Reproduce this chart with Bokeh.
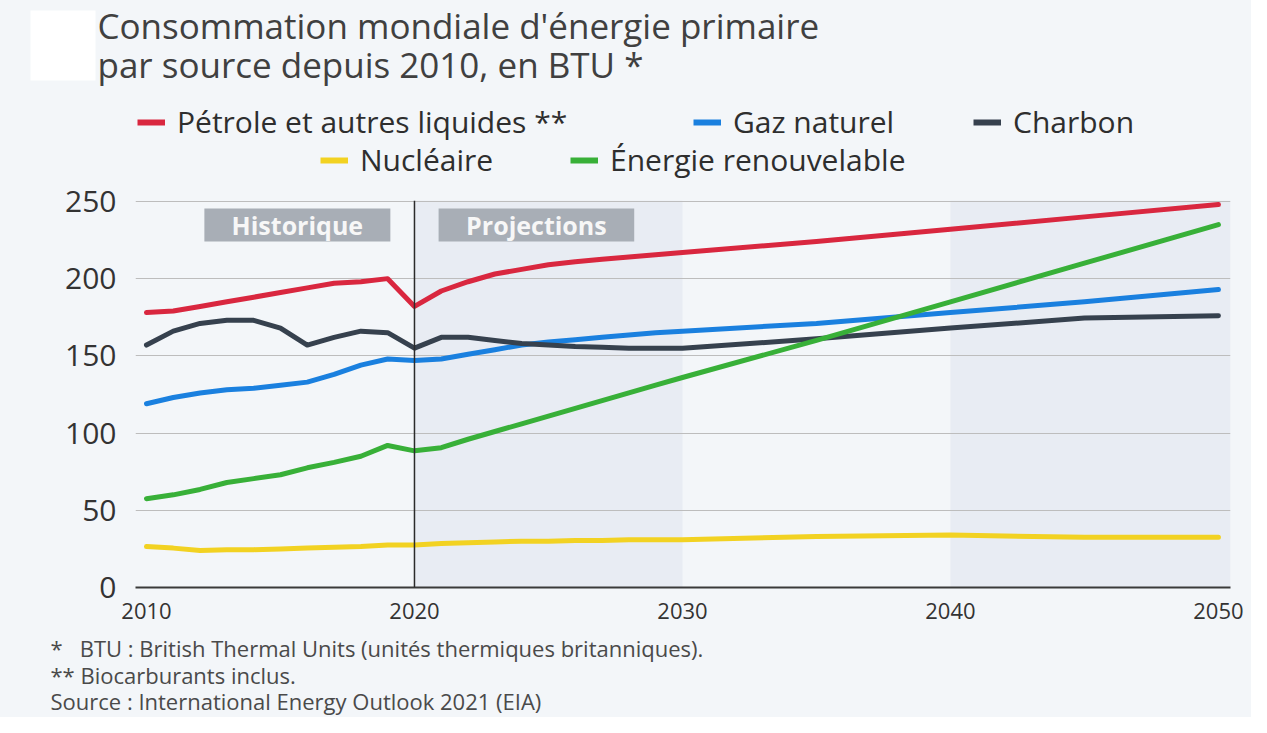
from bokeh.plotting import figure
from bokeh.layouts import column
from bokeh.models import (Range1d, FixedTicker, Label, Legend, LegendItem,
                          BoxAnnotation, Span)
from bokeh.embed import file_html
from bokeh.resources import INLINE

# ---------------- data ----------------
years = [2010, 2011, 2012, 2013, 2014, 2015, 2016, 2017, 2018, 2019, 2020,
         2021, 2022, 2023, 2024, 2025, 2026, 2027, 2028, 2029, 2030,
         2035, 2040, 2045, 2050]
petrole = [178, 179, 182, 185, 188, 191, 194, 197, 198, 200, 182,
           192, 198, 203, 206, 209, 211, 212.5, 214, 215.5, 217,
           224, 232, 240, 248]
gaz = [119, 123, 126, 128, 129, 131, 133, 138, 144, 148, 147,
       148, 151, 154, 157, 159, 160.5, 162, 163.5, 165, 166,
       171, 178, 185, 193]
charbon = [157, 166, 171, 173, 173, 168, 157, 162, 166, 165, 155,
           162, 162, 160, 158, 157, 156, 155.5, 155, 155, 155,
           161, 168, 174.5, 176]
nucleaire = [26.5, 25.5, 24, 24.5, 24.5, 25, 25.5, 26, 26.5, 27.5, 27.5,
             28.5, 29, 29.5, 30, 30, 30.5, 30.5, 31, 31, 31,
             33, 34, 32.5, 32.5]
renouvelable = [57.5, 60, 63.5, 68, 70.5, 73, 77.5, 81, 85, 92, 88.5,
                90.5, 96, 101, 106, 111, 116, 121, 126, 131, 136,
                160, 185, 210, 235]

series_names = ["Pétrole et autres liquides **", "Gaz naturel", "Charbon",
                "Nucléaire", "Énergie renouvelable"]
x_ticks = [2010, 2020, 2030, 2040, 2050]
y_ticks = [0, 50, 100, 150, 200, 250]
period_labels = ["Historique", "Projections"]
title_lines = ["Consommation mondiale d'énergie primaire",
               "par source depuis 2010, en BTU *"]
notes = ["*\u00a0\u00a0 BTU : British Thermal Units (unités thermiques britanniques).",
         "** Biocarburants inclus.",
         "Source : International Energy Outlook 2021 (EIA)"]

# ---------------- style ----------------
FONT = "Open Sans"
BG = "#f3f6f9"
BAND = "#e8ecf3"
COLORS = ["#d9273f", "#1a80df", "#36414e", "#f2d222", "#38b038"]
W = 1251
HEAD_H, FOOT_H = 181, 87
MAIN_TOP, FRAME_H, MAIN_BOTTOM = 19, 387, 43
MAIN_H = MAIN_TOP + FRAME_H + MAIN_BOTTOM
FOOT_Y0 = HEAD_H + MAIN_H   # page y where footer starts


def no_align(f):
    if "frame_align" in f.properties():
        f.frame_align = False


def blank_fig(h):
    f = figure(width=W, height=h, output_backend="svg", toolbar_location=None,
               title=None, x_range=Range1d(0, W), y_range=Range1d(0, h),
               min_border=0, x_axis_type=None, y_axis_type=None)
    f.background_fill_color = BG
    f.border_fill_color = BG
    f.outline_line_color = None
    f.xgrid.visible = False
    f.ygrid.visible = False
    no_align(f)
    return f


def add_text(f, txt, x, y, size, color, style="normal"):
    f.add_layout(Label(x=x, y=y, text=txt, text_font=FONT,
                       text_font_size=size, text_color=color,
                       text_font_style=style, text_align="left",
                       text_baseline="middle"))


# ---------------- header: title + legend ----------------
head = blank_fig(HEAD_H)
head.add_layout(BoxAnnotation(left=30, right=95, bottom=HEAD_H - 80,
                              top=HEAD_H - 10, fill_color="white",
                              fill_alpha=1, line_color=None))
add_text(head, title_lines[0], 97, HEAD_H - 25, "35px", "#404040")
add_text(head, title_lines[1], 97, HEAD_H - 64, "35px", "#404040")

leg_pos = [(137, 124), (693, 124), (973, 124), (320, 162), (570, 162)]
for name, col, (mx, my) in zip(series_names, COLORS, leg_pos):
    dummy = head.line(x=[-60, -40], y=[-60, -60], line_width=6,
                      line_color=col)
    leg = Legend(items=[LegendItem(label=name, renderers=[dummy])],
                 location=(mx, HEAD_H - my - 18), orientation="horizontal",
                 padding=0, margin=0, spacing=0,
                 glyph_width=28, glyph_height=20, label_standoff=12,
                 label_text_font=FONT, label_text_font_size="30px",
                 label_text_color="#2e2e2e",
                 border_line_color=None, background_fill_alpha=0)
    head.add_layout(leg)

# ---------------- main chart ----------------
p = figure(width=W, height=MAIN_H, output_backend="svg", toolbar_location=None,
           title=None,
           x_range=Range1d(2009.59, 2050.45), y_range=Range1d(0, 250.6),
           min_border_left=135, min_border_right=21,
           min_border_top=MAIN_TOP, min_border_bottom=MAIN_BOTTOM)
p.background_fill_color = BG
p.border_fill_color = BG
p.outline_line_color = None
no_align(p)

p.add_layout(BoxAnnotation(left=2020, right=2030, fill_color=BAND, fill_alpha=1,
                           line_color=None, level="image"))
p.add_layout(BoxAnnotation(left=2040, fill_color=BAND, fill_alpha=1,
                           line_color=None, level="image"))

p.xaxis.ticker = FixedTicker(ticks=x_ticks)
p.xaxis.major_tick_line_color = None
p.xaxis.minor_tick_line_color = None
p.xaxis.axis_line_color = "#3a3a3a"
p.xaxis.axis_line_width = 2
p.xaxis.major_label_text_font = FONT
p.xaxis.major_label_text_font_size = "22px"
p.xaxis.major_label_text_color = "#333333"
p.xaxis.major_label_standoff = 9

p.yaxis.ticker = FixedTicker(ticks=y_ticks)
p.yaxis.major_tick_line_color = None
p.yaxis.minor_tick_line_color = None
p.yaxis.axis_line_color = None
p.yaxis.major_label_text_font = FONT
p.yaxis.major_label_text_font_size = "30px"
p.yaxis.major_label_text_color = "#333333"
p.yaxis.major_label_standoff = 13

p.xgrid.grid_line_color = None
p.ygrid.ticker = FixedTicker(ticks=y_ticks)
p.ygrid.grid_line_color = "#bdbdbd"
p.ygrid.grid_line_width = 1

p.add_layout(Span(location=2020, dimension="height", line_color="#2b2b2b",
                  line_width=1.5))

all_series = [petrole, gaz, charbon, nucleaire, renouvelable]
for vals, col in zip(all_series, COLORS):
    p.line(years, vals, line_width=5, line_color=col,
           line_cap="round", line_join="round")

boxes = [(2012.16, 2019.1), (2020.9, 2028.2)]
for (l, r_), txt in zip(boxes, period_labels):
    p.add_layout(BoxAnnotation(left=l, right=r_, bottom=224.1, top=245.5,
                               fill_color="#a8aeb6", fill_alpha=1,
                               line_color=None))
    p.add_layout(Label(x=(l + r_) / 2, y=234.8, text=txt, text_font=FONT,
                       text_font_size="25px", text_font_style="bold",
                       text_color="#f7f7f7", text_align="center",
                       text_baseline="middle"))

# ---------------- footer ----------------
foot = blank_fig(FOOT_H)
add_text(foot, notes[0], 50, FOOT_H - (647 - FOOT_Y0), "22px", "#4a4a4a")
add_text(foot, notes[1], 50, FOOT_H - (674 - FOOT_Y0), "22px", "#4a4a4a")
add_text(foot, notes[2], 50, FOOT_H - (700 - FOOT_Y0), "22px", "#4a4a4a")

layout = column(head, p, foot, spacing=0, styles={"background-color": BG})
open("out.html", "w").write(file_html(layout, INLINE))
